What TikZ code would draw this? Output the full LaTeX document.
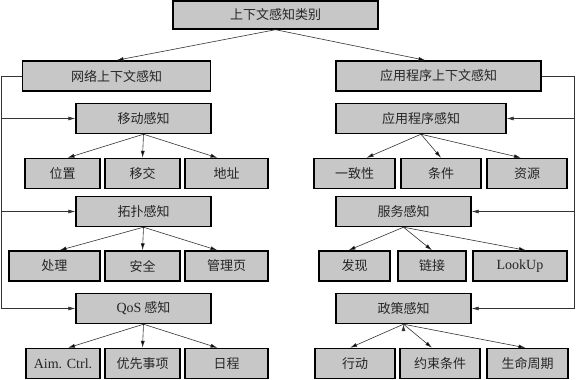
\documentclass[tikz,border=0pt]{standalone}
\usepackage{fontspec}
\setmainfont{Liberation Serif}
\newfontfamily\cjk{Noto Sans CJK SC}
\usetikzlibrary{arrows.meta,positioning}

\begin{document}
\begin{tikzpicture}[x=1pt,y=-1pt,
  box/.style={draw,line width=1.4pt,fill=black!22,text=black!85,inner sep=0pt,
    minimum height=30pt,font=\fontsize{13}{15}\selectfont\cjk},
  lat/.style={font=\fontsize{14}{16}\selectfont\rmfamily},
  link/.style={line width=0.6pt,draw=black!80},
  >={Latex[length=7pt,width=4pt]}]
\useasboundingbox (0,0) rectangle (576,380);

% top levels
\node[box,minimum width=205pt,minimum height=28pt] (cat) at (275.5,15) {上下文感知类别};
\node[box,minimum width=188pt] (net) at (116.5,76) {网络上下文感知};
\node[box,minimum width=205pt] (app) at (438.5,76) {应用程序上下文感知};

% network side
\node[box,minimum width=135pt] (mob) at (143.5,118.5) {移动感知};
\node[box,minimum width=75pt] (loc) at (62.5,173.5) {位置};
\node[box,minimum width=75pt] (hand) at (142.5,173.5) {移交};
\node[box,minimum width=83pt] (addr) at (226.5,173.5) {地址};
\node[box,minimum width=135pt] (topo) at (143.5,211.5) {拓扑感知};
\node[box,minimum width=91pt] (proc) at (54.5,266) {处理};
\node[box,minimum width=75pt] (sec) at (142.5,266) {安全};
\node[box,minimum width=83pt] (mgmt) at (226.5,266) {管理页};
\node[box,minimum width=135pt] (qos) at (143.5,308.5) {{\rmfamily\fontsize{14}{16}\selectfont QoS} 感知};
\node[box,lat,minimum width=74pt] (aim) at (63,363.5) {Aim. Ctrl.};
\node[box,minimum width=75pt] (pri) at (142.5,363.5) {优先事项};
\node[box,minimum width=83pt] (sched) at (226.5,363.5) {日程};

% application side
\node[box,minimum width=170pt] (appa) at (421,118.5) {应用程序感知};
\node[box,minimum width=81pt] (cons) at (354.5,173.5) {一致性};
\node[box,minimum width=80pt] (cond) at (441,173.5) {条件};
\node[box,minimum width=80pt] (res) at (527,173.5) {资源};
\node[box,minimum width=135pt] (serv) at (403.5,211.5) {服务感知};
\node[box,minimum width=71pt] (disc) at (354.5,266) {发现};
\node[box,minimum width=68pt] (lnk) at (432,266) {链接};
\node[box,lat,minimum width=94pt] (look) at (520,266) {LookUp};
\node[box,minimum width=135pt] (pol) at (403.5,308.5) {政策感知};
\node[box,minimum width=80pt] (act) at (355,363.5) {行动};
\node[box,minimum width=80pt] (constr) at (440,363.5) {约束条件};
\node[box,minimum width=81pt] (life) at (527.5,363.5) {生命周期};

\coordinate (lbus) at (1.5,76);
\coordinate (rbus) at (574.5,76);

\path[->,link]
(cat.south) edge (net.north)
(cat.south) edge ([xshift=-13pt]app.north)
(mob.south) edge ([xshift=5pt]loc.north)
(mob.south) edge (hand.north)
(mob.south) edge ([xshift=-9pt]addr.north)
(topo.south) edge ([xshift=5pt]proc.north)
(topo.south) edge (sec.north)
(topo.south) edge ([xshift=-9pt]mgmt.north)
(qos.south) edge ([xshift=5pt]aim.north)
(qos.south) edge (pri.north)
(qos.south) edge ([xshift=-9pt]sched.north)
(appa.south) edge ([xshift=12pt]cons.north)
(appa.south) edge (cond.north)
(appa.south) edge ([xshift=-6pt]res.north)
(serv.south) edge ([xshift=-6pt]disc.north)
(serv.south) edge (lnk.north)
(serv.south) edge ([xshift=6pt]look.north)
(pol.south) edge ([xshift=-5pt]act.north)
(pol.south) edge ([xshift=-8pt]constr.north)
(pol.south) edge ([xshift=-2pt]life.north)
;

% side buses
\draw[link] (net.west) -- (lbus);
\draw[link,->] (lbus) |- (mob.west);
\draw[link,->] (lbus) |- (topo.west);
\draw[link,->] (lbus) |- (qos.west);
\draw[link] (app.east) -- (rbus);
\draw[link,->] (rbus) |- (appa.east);
\draw[link,->] (rbus) |- (serv.east);
\draw[link,->] (rbus) |- (pol.east);
\end{tikzpicture}
\end{document}
